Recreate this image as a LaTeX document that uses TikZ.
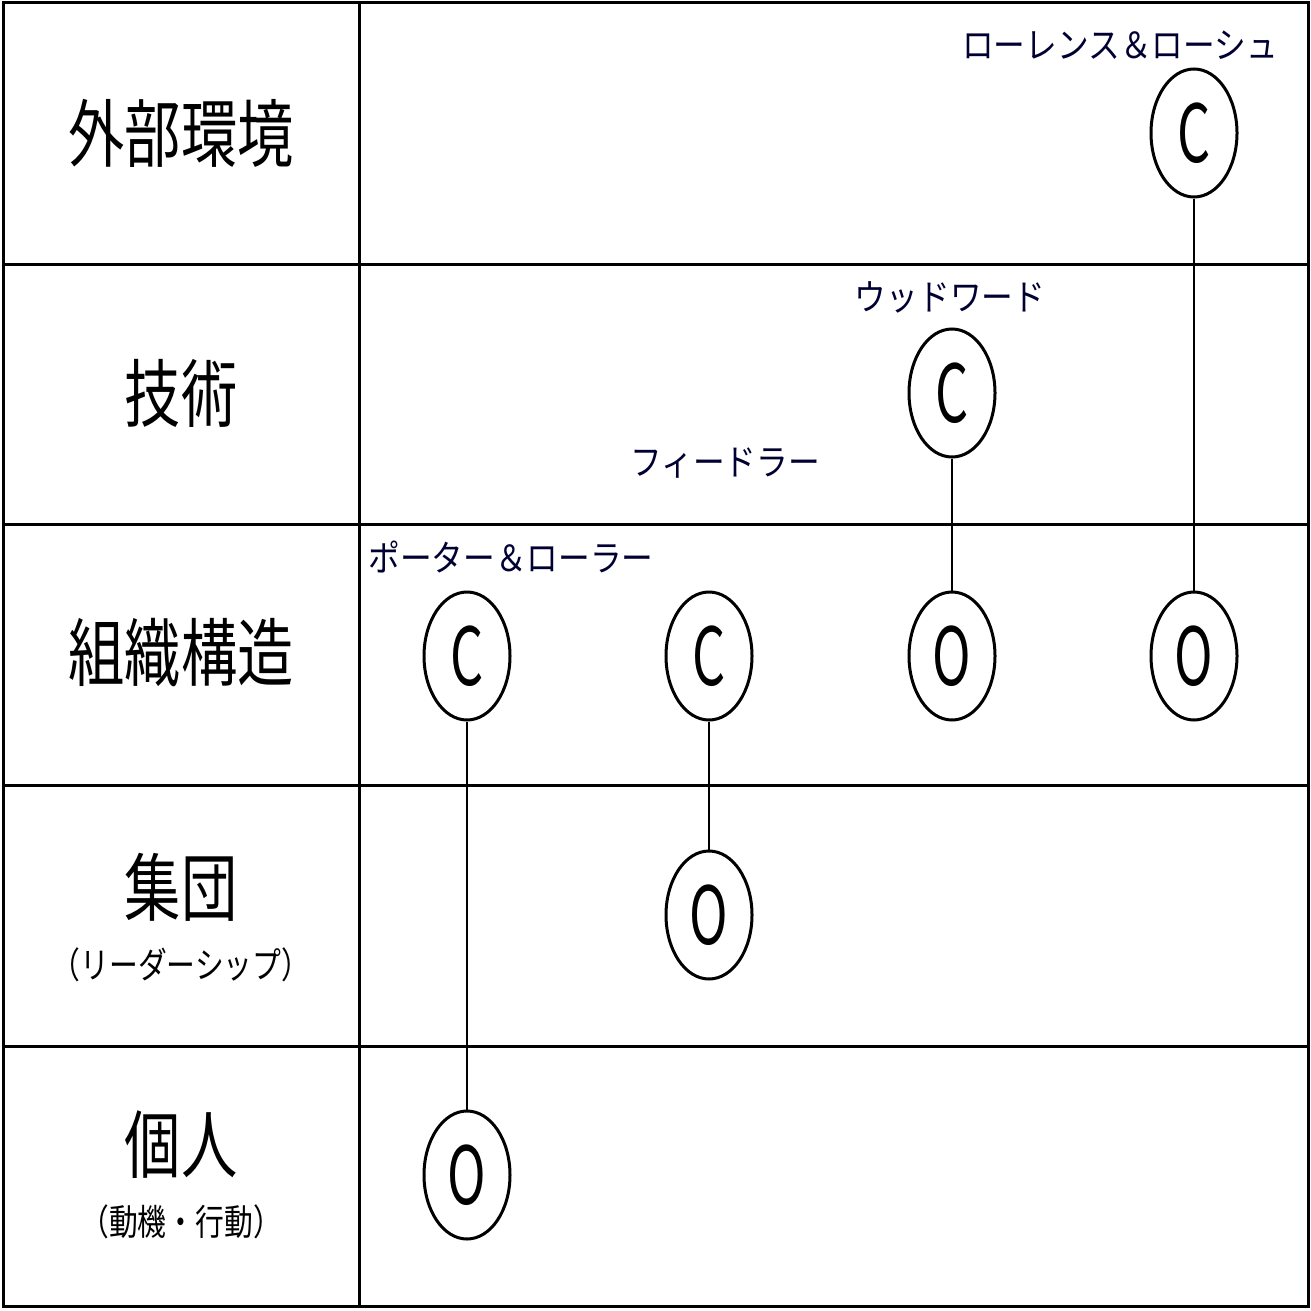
\documentclass[tikz,border=0pt]{standalone}
\usepackage{fontspec}
\setmainfont{Noto Sans CJK JP}
\usetikzlibrary{shapes.geometric}
\begin{document}
\begin{tikzpicture}[x=1pt,y=-1pt,
  grid/.style={line width=3pt},
  ell/.style={draw,ellipse,line width=3pt,minimum width=86pt,minimum height=128pt,inner sep=0pt},
  lbl/.style={font=\fontsize{36}{40}\selectfont,text=black!80!blue,xscale=0.88},
  sub/.style={font=\fontsize{36}{40}\selectfont,xscale=0.8},
  row/.style={font=\fontsize{74}{80}\selectfont,align=center,xscale=0.76},
  link/.style={line width=1.2pt}]
\useasboundingbox (0,0) rectangle (1311,1311);
\draw[grid] (3,3) rectangle (1308,1306);
\draw[grid] (359,3) -- (359,1306);
\foreach \y in {264,524,785,1046} \draw[grid] (3,\y) -- (1308,\y);
\node[row] (r1) at (181,133) {外部環境};
\node[row] (r2) at (181,393) {技術};
\node[row] (r3) at (181,653) {組織構造};
\node[row] (r4) at (181,887) {集団};
\node[sub] (r4s) at (181,965) {（リーダーシップ）};
\node[row] (r5) at (181,1145) {個人};
\node[sub] (r5s) at (181,1222) {（動機・行動）};
\newcommand{\lt}[1]{\scalebox{0.65}[1]{\fontsize{80}{80}\selectfont #1}}
\node[ell] (c1) at (1194,133) {\lt{C}};
\node[ell] (c2) at (952,393) {\lt{C}};
\node[ell] (c3) at (467,656) {\lt{C}};
\node[ell] (c4) at (709,656) {\lt{C}};
\node[ell] (o1) at (952,656) {\lt{O}};
\node[ell] (o2) at (1194,656) {\lt{O}};
\node[ell] (o3) at (709,915) {\lt{O}};
\node[ell] (o4) at (467,1175) {\lt{O}};
\draw[link] (c1) -- (o2);
\draw[link] (c2) -- (o1);
\draw[link] (c4) -- (o3);
\draw[link] (c3) -- (o4);
\node[lbl] (l1) at (1120,45) {ローレンス＆ローシュ};
\node[lbl] (l2) at (950,297) {ウッドワード};
\node[lbl] (l3) at (725,463) {フィードラー};
\node[lbl] (l4) at (511,557) {ポーター＆ローラー};
\end{tikzpicture}
\end{document}
